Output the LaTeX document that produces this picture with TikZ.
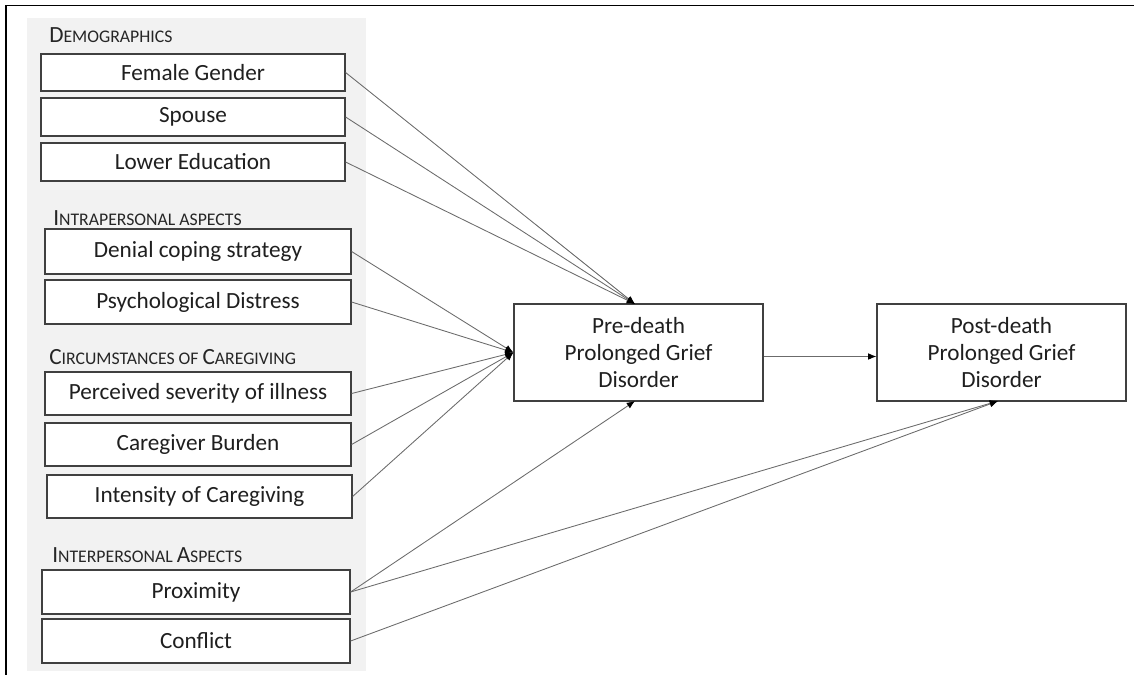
\documentclass[tikz,border=0pt]{standalone}
\usepackage{fontspec}
\setmainfont{Carlito}
\usetikzlibrary{arrows.meta,calc}
\newcommand\smc[1]{{\fontsize{13.3}{16}\selectfont #1}}
\tikzset{
  panel/.style={fill=black!5, draw=none},
  box/.style={draw=black!75, line width=0.9pt, fill=white, inner sep=0pt,
    text=black!88, font=\fontsize{17.4}{20.4}\selectfont, align=center},
  lbox/.style={box, minimum width=228pt},
  rbox/.style={box, minimum width=186.75pt, minimum height=72.75pt},
  head/.style={anchor=base west, inner sep=0pt, text=black!85,
    font=\fontsize{17.4}{20.4}\selectfont},
  conn/.style={draw=black!58, line width=0.65pt,
    -{Latex[length=6.2pt,width=5pt,color=black]}},
}
\begin{document}
\begin{tikzpicture}[x=0.75pt,y=-0.75pt]
\useasboundingbox (0,0) rectangle (1134,675);
% frame
\draw[line width=1.1pt] (1134,5.5) -- (6,5.5) -- (6,675);
% grey panel holding the predictors
\fill[panel] (27,18) rectangle (366,671);

% group headings
\node[head] (hdem) at (49,42) {D\smc{EMOGRAPHICS}};
\node[head] (hintra) at (53,225) {I\smc{NTRAPERSONAL ASPECTS}};
\node[head] (hcirc) at (49,364) {C\smc{IRCUMSTANCES OF }C\smc{AREGIVING}};
\node[head] (hinter) at (52,562) {I\smc{NTERPERSONAL }A\smc{SPECTS}};

% predictor boxes
\node[lbox, minimum height=27.75pt] (fem) at (193,72.5) {Female Gender};
\node[lbox, minimum height=28.5pt] (spo) at (193,117) {Spouse};
\node[lbox, minimum height=28.5pt] (edu) at (193,162) {Lower Education};
\node[lbox, minimum width=229.5pt, minimum height=33.75pt] (den) at (198,251.5) {Denial coping strategy};
\node[lbox, minimum width=229.5pt, minimum height=33pt] (psy) at (198,302) {Psychological Distress};
\node[lbox, minimum width=229.5pt, minimum height=32.25pt] (per) at (198,393.5) {Perceived severity of illness};
\node[lbox, minimum width=229.5pt, minimum height=32.25pt] (bur) at (198,444.5) {Caregiver Burden};
\node[lbox, minimum width=228.75pt, minimum height=32.25pt] (int) at (199.5,496.5) {Intensity of Caregiving};
\node[lbox, minimum width=231pt, minimum height=33pt] (pro) at (196,592) {Proximity};
\node[lbox, minimum width=231pt, minimum height=33pt] (con) at (196,641) {Conflict};

% outcome boxes
\node[rbox] (pre) at (638.5,352.5) {Pre-death\\Prolonged Grief\\Disorder};
\node[rbox] (post) at (1001.5,352.5) {Post-death\\Prolonged Grief\\Disorder};

% arrow targets
\coordinate (pretop) at (635,304);
\coordinate (prebot) at (635,401);
\coordinate (postbot) at (998,401);
\coordinate (prel) at (pre.west);

% connectors
\foreach \s in {fem,spo,edu} \draw[conn] (\s.east) -- (pretop);
\foreach \s in {den,psy,per,bur,int} \draw[conn] (\s.east) -- (prel);
\draw[conn] (pro.east) -- (prebot);
\draw[conn] (pro.east) -- (postbot);
\draw[conn] (con.east) -- (postbot);
\coordinate (pout) at ([yshift=-3pt]pre.east);
\draw[conn] (pout) -- (pout -| post.west);
\end{tikzpicture}
\end{document}
